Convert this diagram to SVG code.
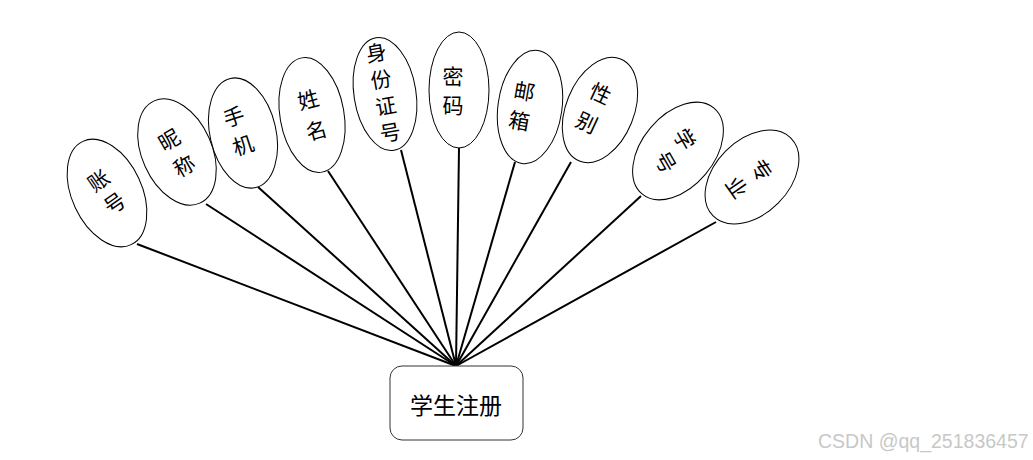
<svg xmlns="http://www.w3.org/2000/svg" width="1033" height="460" viewBox="0 0 1033 460">
<style>
  .e { fill: #fff; stroke: #000; stroke-width: 1; }
  .t { font-family: "Noto Sans CJK SC", "Noto Sans", sans-serif; font-size: 21px; fill: #000; text-anchor: middle; dominant-baseline: central; }
  .c line { stroke: #000; stroke-width: 2; }
  .box { fill: #fff; stroke: #333; stroke-width: 1; }
  .wm { font-family: "Liberation Sans", Arial, sans-serif; font-size: 19.5px; fill: #c8c8c8; }
</style>
<rect width="1033" height="460" fill="#fff"/>
<g class="c" id="connectors">
  <line x1="137" y1="244" x2="456" y2="366"/>
  <line x1="206" y1="204" x2="456" y2="366"/>
  <line x1="258" y1="187" x2="456" y2="366"/>
  <line x1="328" y1="171" x2="456" y2="366"/>
  <line x1="401" y1="150" x2="456" y2="366"/>
  <line x1="459" y1="148" x2="456" y2="366"/>
  <line x1="515" y1="162" x2="456" y2="366"/>
  <line x1="571" y1="162" x2="456" y2="366"/>
  <line x1="641" y1="196" x2="456" y2="366"/>
  <line x1="716" y1="222" x2="456" y2="366"/>
</g>
<g id="n1">
  <ellipse class="e" cx="0" cy="0" rx="35" ry="57" transform="translate(107,193) rotate(-25)"/>
  <g transform="translate(106,191) rotate(-35)"><text class="t" x="0" y="-14">账</text><text class="t" x="0" y="14">号</text></g>
</g>
<g id="n2">
  <ellipse class="e" cx="0" cy="0" rx="35" ry="56" transform="translate(177,152) rotate(-24)"/>
  <g transform="translate(176,152) rotate(-30)"><text class="t" x="0" y="-15">昵</text><text class="t" x="0" y="15">称</text></g>
</g>
<g id="n3">
  <ellipse class="e" cx="0" cy="0" rx="33" ry="56" transform="translate(243,133) rotate(-13)"/>
  <g transform="translate(238,130) rotate(-18)"><text class="t" x="0" y="-15">手</text><text class="t" x="0" y="15">机</text></g>
</g>
<g id="n4">
  <ellipse class="e" cx="0" cy="0" rx="32" ry="58" transform="translate(312,115) rotate(-10)"/>
  <g transform="translate(312,114) rotate(-15)"><text class="t" x="0" y="-16">姓</text><text class="t" x="0" y="16">名</text></g>
</g>
<g id="n5">
  <ellipse class="e" cx="0" cy="0" rx="31" ry="57" transform="translate(385,94) rotate(-9)"/>
  <g transform="translate(383,91) rotate(-10)"><text class="t" x="0" y="-40">身</text><text class="t" x="0" y="-13">份</text><text class="t" x="0" y="14">证</text><text class="t" x="0" y="41">号</text></g>
</g>
<g id="n6">
  <ellipse class="e" cx="459" cy="90" rx="30" ry="58"/>
  <text class="t" x="453" y="75">密</text><text class="t" x="453" y="104">码</text>
</g>
<g id="n7">
  <ellipse class="e" cx="0" cy="0" rx="32" ry="57" transform="translate(530,107) rotate(8)"/>
  <g transform="translate(522,105) rotate(10)"><text class="t" x="0" y="-15">邮</text><text class="t" x="0" y="15">箱</text></g>
</g>
<g id="n8">
  <ellipse class="e" cx="0" cy="0" rx="34" ry="55" transform="translate(600,110) rotate(22)"/>
  <g transform="translate(594,107) rotate(25)"><text class="t" x="0" y="-16">性</text><text class="t" x="0" y="16">别</text></g>
</g>
<g id="n9">
  <ellipse class="e" cx="0" cy="0" rx="36" ry="56" transform="translate(678,151) rotate(40)"/>
  <g transform="translate(676,150) rotate(40)"><text class="t" x="0" y="-15" transform="rotate(20 0 -15)">学</text><text class="t" x="0" y="15" transform="rotate(20 0 15)">号</text></g>
</g>
<g id="n10">
  <ellipse class="e" cx="0" cy="0" rx="37" ry="55" transform="translate(752,177) rotate(45)"/>
  <g transform="translate(750,178) rotate(55)"><text class="t" x="0" y="-15">专</text><text class="t" x="0" y="15">业</text></g>
</g>
<g id="main">
  <rect class="box" x="390" y="366" width="133" height="74" rx="12" ry="12"/>
  <text class="t" x="456" y="404" style="font-size:23px">学生注册</text>
</g>
<text class="wm" x="818" y="448">CSDN @qq_251836457</text>
</svg>
